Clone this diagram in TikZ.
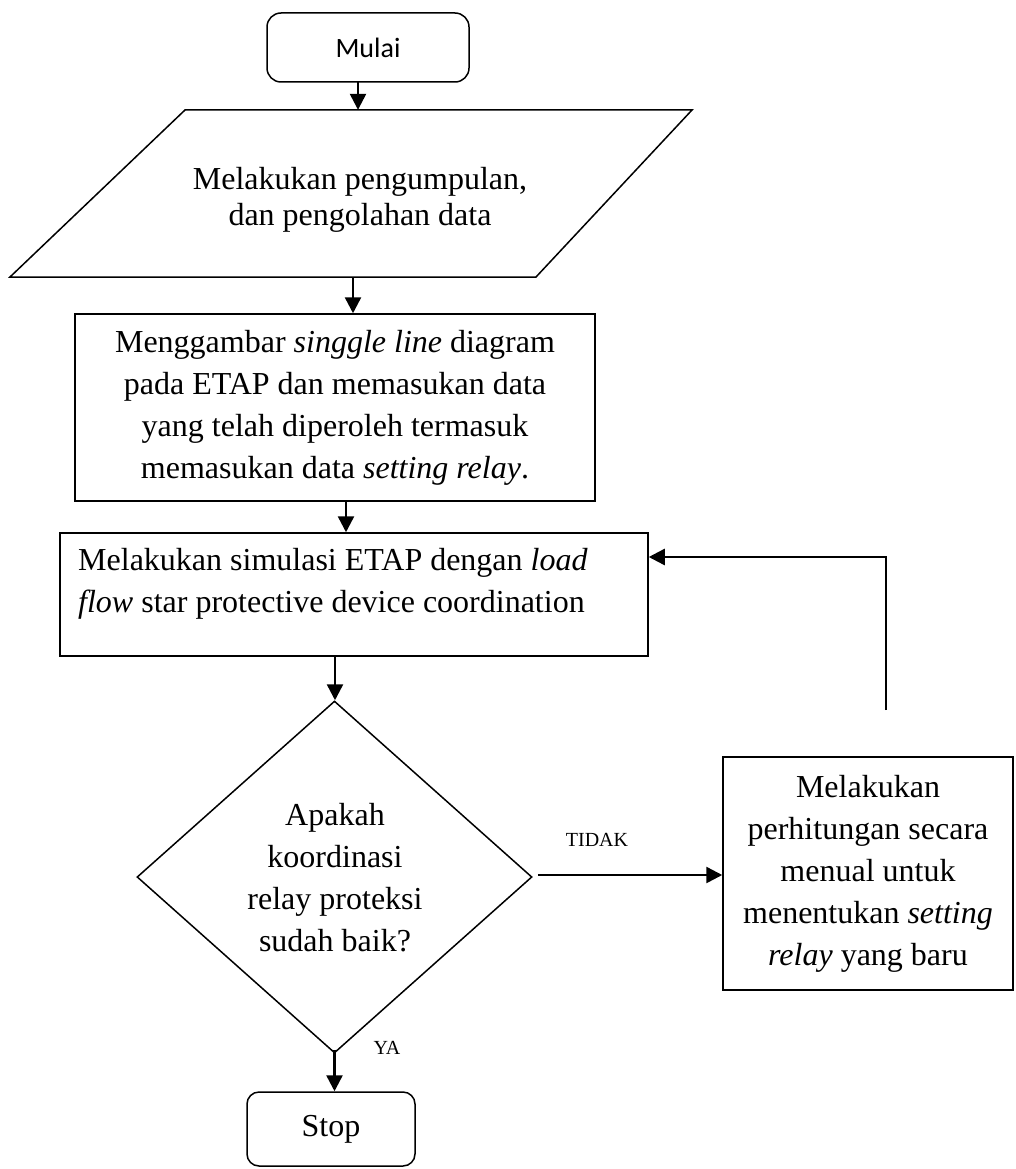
\documentclass[tikz,border=0pt]{standalone}
\usepackage{fontspec}
\setmainfont{Liberation Serif}
\newfontfamily\calfont{Carlito}
\usetikzlibrary{shapes.geometric,arrows.meta,calc}
\tikzset{
  box/.style={draw, line width=1.5pt, rectangle, inner sep=0pt},
  term/.style={draw, line width=1.5pt, rectangle, rounded corners=14pt, inner sep=0pt},
  dec/.style={draw, line width=1.5pt, diamond, inner sep=0pt},
  arr/.style={line width=2.5pt, -{Triangle[length=16pt,width=16pt]}},
  lbl/.style={font=\fontsize{20}{24}\selectfont, inner sep=0pt},
  txt/.style={font=\fontsize{32}{42}\selectfont, align=center, inner sep=0pt}
}
\begin{document}
\begin{tikzpicture}[x=1pt,y=-1pt]
\useasboundingbox (0,0) rectangle (1015,1169);
% start
\node[term, minimum width=202pt, minimum height=69pt, font=\calfont\fontsize{28}{32}\selectfont] (mulai) at (368,47.5) {Mulai};
% data input (parallelogram)
\node[minimum width=400pt, minimum height=167pt, inner sep=0pt] (data) at (358,193.5) {};
\draw[line width=1.5pt, line join=miter] (185,110) -- (692,110) -- (536,277) -- (10,277) -- cycle;
\node[txt, font=\fontsize{32}{36.5}\selectfont] at (360,200) {Melakukan pengumpulan,\\dan pengolahan data};
% box 2
\node[box, minimum width=520pt, minimum height=187pt, txt] (draw) at (335,407.5)
  {Menggambar \textit{singgle line} diagram\\pada ETAP dan memasukan data\\yang telah diperoleh termasuk\\memasukan data \textit{setting relay}.};
% box 3
\node[box, minimum width=588pt, minimum height=123pt] (sim) at (354,594.5) {};
\node[txt, align=left, anchor=west] at (78,584) {Melakukan simulasi ETAP dengan \textit{load}\\\textit{flow} star protective device coordination};
% decision
\node[dec, minimum width=395pt, minimum height=352pt] (dec) at (334.5,877) {};
\node[txt] at (335,877.5) {Apakah\\koordinasi\\relay proteksi\\sudah baik?};
% manual
\node[box, minimum width=290pt, minimum height=233pt, txt] (man) at (868,873.5)
  {Melakukan\\perhitungan secara\\menual untuk\\menentukan \textit{setting}\\\textit{relay} yang baru};
% stop
\node[term, rounded corners=12pt, minimum width=168pt, minimum height=74pt, font=\fontsize{32}{36}\selectfont] (stop) at (331,1129) {\raisebox{3pt}{Stop}};
% labels
\node[lbl] (tidak) at (597,840) {TIDAK};
\node[lbl] (ya) at (387,1048) {YA};
% connectors
\coordinate (a1) at (358,82);
\draw[arr] (a1) -- (a1 |- data.north);
\coordinate (a2) at (353,277);
\draw[arr] (a2) -- (a2 |- draw.north);
\coordinate (a3) at (346,501);
\draw[arr] (a3) -- (a3 |- sim.north);
\coordinate (a4) at (335,656);
\draw[arr] (a4) -- (a4 |- dec.north);
\draw[arr] ([xshift=5pt,yshift=2pt]dec.east) -- ([yshift=2pt]dec.east -| man.west);
\draw[arr] ([yshift=4pt]dec.south) -- (dec.south |- stop.north);
\coordinate (fb) at (886,710);
\coordinate (fbt) at (886,557);
\draw[arr] (fb) -- (fbt) -- (fbt -| sim.east);
\end{tikzpicture}
\end{document}
